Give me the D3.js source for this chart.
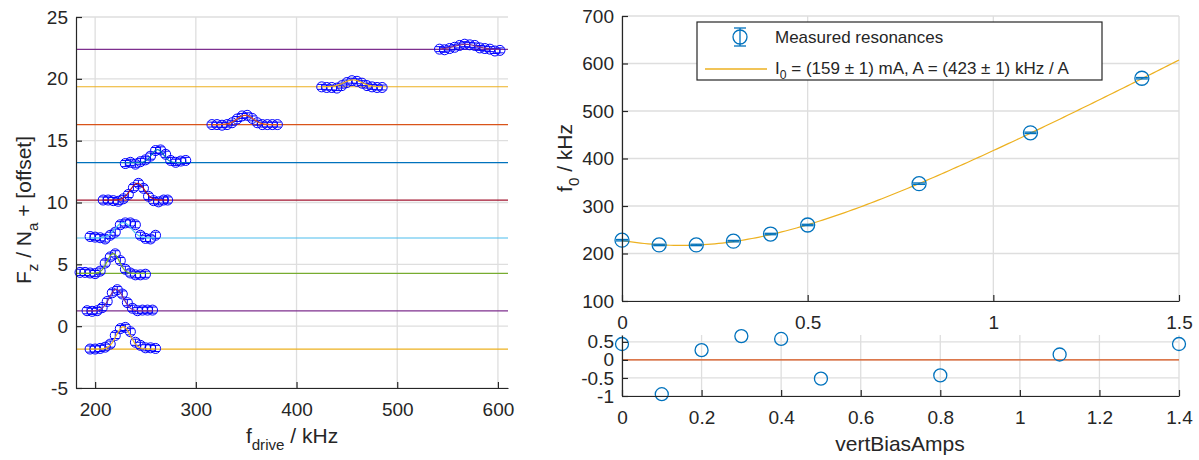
<!DOCTYPE html>
<html><head><meta charset="utf-8">
<script src="https://cdn.jsdelivr.net/npm/d3@7"></script>
<style>
body{margin:0;background:#fff}
svg{display:block}
text{font-family:"Liberation Sans",Arial,Helvetica,sans-serif;fill:#262626}
</style>
</head><body>
<svg id="c" width="1199" height="460"></svg>
<script>
// ---------------- DATA ----------------
// Left panel: resonance scans (f_drive in kHz, Fz/Na + offset)
const fDrive1 = [195,200,205,210,215,220,225,230,235,240,245,250,255,260];
const fz1     = [-1.85,-1.85,-1.8,-1.7,-1.45,-0.75,-0.2,-0.1,-0.45,-1.3,-1.55,-1.75,-1.75,-1.8];
const fDrive2 = [192,197,202,207,212,217,222,227,232,237,242,247,252,257];
const fz2     = [1.25,1.2,1.25,1.5,2.0,2.7,2.95,2.6,1.9,1.45,1.25,1.3,1.3,1.3];
const fDrive3 = [185,190,195,200,205,210,215,220,225,230,235,240,245,250];
const fz3     = [4.35,4.35,4.3,4.25,4.45,5.1,5.6,5.85,5.3,4.6,4.3,4.15,4.15,4.2];
const fDrive4 = [195,200,205,210,215,220,225,230,235,240,245,250,255,260];
const fz4     = [7.25,7.2,7.15,7.05,7.35,7.6,8.2,8.35,8.35,8.2,7.35,7.1,7.05,7.35];
const fDrive5 = [208,213,218,223,228,233,238,243,248,253,258,263,268,272];
const fz5     = [10.2,10.2,10.15,10.1,10.3,10.65,11.2,11.55,11.15,10.5,10.15,10.05,10.2,10.2];
const fDrive6 = [230,235,240,245,250,255,260,265,270,275,280,285,290];
const fz6     = [13.15,13.25,13.1,13.3,13.45,13.75,14.2,14.25,13.9,13.4,13.25,13.35,13.4];
const fDrive7 = [316,321,326,331,336,341,346,351,356,361,366,371,376,381];
const fz7     = [16.3,16.3,16.25,16.3,16.45,16.75,17.0,17.05,16.8,16.45,16.3,16.3,16.3,16.3];
const fDrive8 = [425,430,435,440,445,450,455,460,465,470,475,480,485];
const fz8     = [19.35,19.3,19.3,19.25,19.45,19.7,19.85,19.8,19.65,19.45,19.35,19.3,19.3];
const fDrive9 = [542,547,552,557,562,567,572,577,582,587,592,597,602];
const fz9     = [22.4,22.35,22.45,22.55,22.7,22.8,22.75,22.7,22.5,22.45,22.4,22.25,22.3];
const fzErr   = [0.25,0.25,0.25,0.25,0.25,0.25,0.2,0.2,0.2];
// Gaussian fit parameters per scan
const fitBase   = [-1.85,1.23,4.27,7.13,10.2,13.22,16.3,19.36,22.39];
const fitCenter = [228,221,218,228,242,262,349,456,568];
const fitAmp    = [1.8,1.75,1.6,1.25,1.35,1.05,0.75,0.55,0.4];
const fitSigma  = [7,7,6,8,7,6,8,9,11];
const seriesColors = ['#EDB120','#7E2F8E','#77AC30','#4DBEEE','#A2142F','#0072BD','#D95319','#EDB120','#7E2F8E'];

const leftXTicks = [200,300,400,500,600];
const leftYTicks = [-5,0,5,10,15,20,25];

// Right panel: measured resonances vs bias current
const biasAmps = [0,0.1,0.2,0.3,0.4,0.5,0.8,1.1,1.4];
const f0kHz    = [228,218,218,226,241,260,347,454,569];
const f0Err    = [1.5,1.5,1.5,1.5,1.5,1.5,1.5,1.5,1.5];
const residual = [0.44,-0.95,0.27,0.66,0.58,-0.52,-0.43,0.15,0.44];
// fit: f0 = sqrt(fmin^2 + (A (I - I0))^2)
const fitI0 = 0.159, fitA = 423, fitFmin = 217;

const topXTicks = [0,0.5,1,1.5];
const topYTicks = [100,200,300,400,500,600,700];
const botXTicks = [0,0.2,0.4,0.6,0.8,1,1.2,1.4];
const botYTicks = [-1,-0.5,0,0.5];

// ---------------- DRAW ----------------
const svg = d3.select('#c');
const FONT = '"Liberation Sans",Arial,Helvetica,sans-serif';
const AX = '#262626', GRID = '#dedede';
const fmt = d => String(d);

function grid(g, xs, ys, xt, yt){
  g.append('g').selectAll('line').data(xt).join('line')
    .attr('x1', d=>xs(d)).attr('x2', d=>xs(d))
    .attr('y1', ys.range()[0]).attr('y2', ys.range()[1])
    .attr('stroke', GRID).attr('stroke-width',1.3);
  g.append('g').selectAll('line').data(yt).join('line')
    .attr('y1', d=>ys(d)).attr('y2', d=>ys(d))
    .attr('x1', xs.range()[0]).attr('x2', xs.range()[1])
    .attr('stroke', GRID).attr('stroke-width',1.3);
}
function axes(g, xs, ys, xt, yt){
  const bx = g.append('g').attr('transform',`translate(0,${ys.range()[0]})`)
    .call(d3.axisBottom(xs).tickValues(xt).tickFormat(fmt).tickSizeInner(-6).tickSizeOuter(0).tickPadding(15));
  const by = g.append('g').attr('transform',`translate(${xs.range()[0]},0)`)
    .call(d3.axisLeft(ys).tickValues(yt).tickFormat(fmt).tickSizeInner(-6).tickSizeOuter(0).tickPadding(8));
  [bx,by].forEach(a=>{
    a.attr('font-size',19).attr('font-family',FONT);
    a.select('.domain').attr('stroke',AX).attr('stroke-width',1.2);
    a.selectAll('.tick line').attr('stroke',AX).attr('stroke-width',1.2);
    a.selectAll('.tick text').attr('fill',AX);
  });
}
function richText(parent, parts, fs){
  const t = parent.append('text').attr('font-size',fs).attr('font-family',FONT).attr('fill',AX);
  let shift = 0;
  parts.forEach(([s,sub])=>{
    const ts = t.append('tspan').text(s);
    if(sub){ ts.attr('font-size',fs*0.72).attr('dy', fs*0.32 - shift); shift = fs*0.32; }
    else { ts.attr('dy', -shift); shift = 0; }
  });
  return t;
}

// ---------- Left panel ----------
const xL = d3.scaleLinear([181,610],[76,508]);
const yL = d3.scaleLinear([-5,25],[388,17]);
const gL = svg.append('g');
grid(gL, xL, yL, leftXTicks, leftYTicks);

const leftF = [fDrive1,fDrive2,fDrive3,fDrive4,fDrive5,fDrive6,fDrive7,fDrive8,fDrive9];
const leftV = [fz1,fz2,fz3,fz4,fz5,fz6,fz7,fz8,fz9];

// baselines
gL.append('g').selectAll('line').data(fitBase).join('line')
  .attr('x1', xL.range()[0]).attr('x2', xL.range()[1])
  .attr('y1', d=>yL(d)).attr('y2', d=>yL(d))
  .attr('stroke', (d,i)=>seriesColors[i]).attr('stroke-width',1.2);

// points with error bars
leftF.forEach((fs,i)=>{
  const pts = fs.map((f,j)=>({f, v:leftV[i][j], e:fzErr[i]}));
  const g = gL.append('g').attr('stroke','#0000FF').attr('fill','none').attr('stroke-width',1);
  const eb = g.selectAll('g').data(pts).join('g');
  eb.append('line').attr('x1',d=>xL(d.f)).attr('x2',d=>xL(d.f))
    .attr('y1',d=>yL(d.v-d.e)).attr('y2',d=>yL(d.v+d.e));
  eb.append('line').attr('x1',d=>xL(d.f)-4).attr('x2',d=>xL(d.f)+4)
    .attr('y1',d=>yL(d.v-d.e)).attr('y2',d=>yL(d.v-d.e));
  eb.append('line').attr('x1',d=>xL(d.f)-4).attr('x2',d=>xL(d.f)+4)
    .attr('y1',d=>yL(d.v+d.e)).attr('y2',d=>yL(d.v+d.e));
  eb.append('circle').attr('cx',d=>xL(d.f)).attr('cy',d=>yL(d.v)).attr('r',5);
});
// gaussian fits
leftF.forEach((fs,i)=>{
  const xsF = d3.range(d3.min(fs), d3.max(fs)+0.01, 0.5);
  const line = d3.line().x(d=>xL(d)).y(d=>yL(fitBase[i] + fitAmp[i]*Math.exp(-((d-fitCenter[i])**2)/(2*fitSigma[i]**2))));
  gL.append('path').attr('d', line(xsF)).attr('fill','none')
    .attr('stroke', seriesColors[i]).attr('stroke-width',1.2);
});
axes(gL, xL, yL, leftXTicks, leftYTicks);

richText(svg.append('g').attr('transform','translate(292,443)'),
  [['f',false],['drive',true],[' / kHz',false]],21).attr('text-anchor','middle');
richText(svg.append('g').attr('transform','translate(31,210) rotate(-90)'),
  [['F',false],['z',true],[' / N',false],['a',true],[' + [offset]',false]],21).attr('text-anchor','middle');

// ---------- Right top panel ----------
const xT = d3.scaleLinear([0,1.5],[622,1179]);
const yT = d3.scaleLinear([100,700],[301,16]);
const gT = svg.append('g');
grid(gT, xT, yT, topXTicks, topYTicks);

const fitLine = d3.line().x(d=>xT(d)).y(d=>yT(Math.sqrt(fitFmin**2 + (fitA*(d-fitI0))**2)));
gT.append('path').attr('d', fitLine(d3.range(0,1.5001,0.01)))
  .attr('fill','none').attr('stroke','#EDB120').attr('stroke-width',1.2);

const tp = biasAmps.map((b,i)=>({b, v:f0kHz[i], e:f0Err[i]}));
const gTp = gT.append('g').attr('stroke','#0072BD').attr('fill','none').attr('stroke-width',1.3);
const tpg = gTp.selectAll('g').data(tp).join('g');
tpg.append('line').attr('x1',d=>xT(d.b)).attr('x2',d=>xT(d.b)).attr('y1',d=>yT(d.v-d.e)).attr('y2',d=>yT(d.v+d.e));
tpg.append('line').attr('x1',d=>xT(d.b)-6).attr('x2',d=>xT(d.b)+6).attr('y1',d=>yT(d.v-d.e)).attr('y2',d=>yT(d.v-d.e));
tpg.append('line').attr('x1',d=>xT(d.b)-6).attr('x2',d=>xT(d.b)+6).attr('y1',d=>yT(d.v+d.e)).attr('y2',d=>yT(d.v+d.e));
tpg.append('circle').attr('cx',d=>xT(d.b)).attr('cy',d=>yT(d.v)).attr('r',7);
axes(gT, xT, yT, topXTicks, topYTicks);

richText(svg.append('g').attr('transform','translate(572,158)'+' rotate(-90)'),
  [['f',false],['0',true],[' / kHz',false]],21).attr('text-anchor','middle');

// legend
const lg = svg.append('g');
lg.append('rect').attr('x',697).attr('y',22).attr('width',405).attr('height',58)
  .attr('fill','#fff').attr('stroke',AX).attr('stroke-width',1.2);
const li = lg.append('g').attr('stroke','#0072BD').attr('fill','none').attr('stroke-width',1.3);
li.append('circle').attr('cx',740).attr('cy',37).attr('r',7);
li.append('line').attr('x1',740).attr('x2',740).attr('y1',28).attr('y2',46);
li.append('line').attr('x1',734).attr('x2',746).attr('y1',28).attr('y2',28);
li.append('line').attr('x1',734).attr('x2',746).attr('y1',46).attr('y2',46);
lg.append('line').attr('x1',705).attr('x2',767).attr('y1',69).attr('y2',69)
  .attr('stroke','#EDB120').attr('stroke-width',1.3);
lg.append('text').attr('x',775).attr('y',43).attr('font-size',17).text('Measured resonances');
richText(lg.append('g').attr('transform','translate(775,74)'),
  [['I',false],['0',true],[' = (159 ± 1) mA, A = (423 ± 1) kHz / A',false]],17);

// ---------- Right bottom panel (residuals) ----------
const xB = d3.scaleLinear([0,1.4],[622,1179]);
const yB = d3.scaleLinear([-1,0.69],[396,335]);
const gB = svg.append('g');
grid(gB, xB, yB, botXTicks, botYTicks);
gB.append('line').attr('x1',xB(0)).attr('x2',xB(1.4)).attr('y1',yB(0)).attr('y2',yB(0))
  .attr('stroke','#D95319').attr('stroke-width',1.2);
gB.append('g').selectAll('circle').data(biasAmps).join('circle')
  .attr('cx',d=>xB(d)).attr('cy',(d,i)=>yB(residual[i])).attr('r',6.5)
  .attr('fill','none').attr('stroke','#0072BD').attr('stroke-width',1.3);
axes(gB, xB, yB, botXTicks, botYTicks);

svg.append('text').attr('x',900).attr('y',451).attr('text-anchor','middle')
  .attr('font-size',21).text('vertBiasAmps');
</script>
</body></html>
